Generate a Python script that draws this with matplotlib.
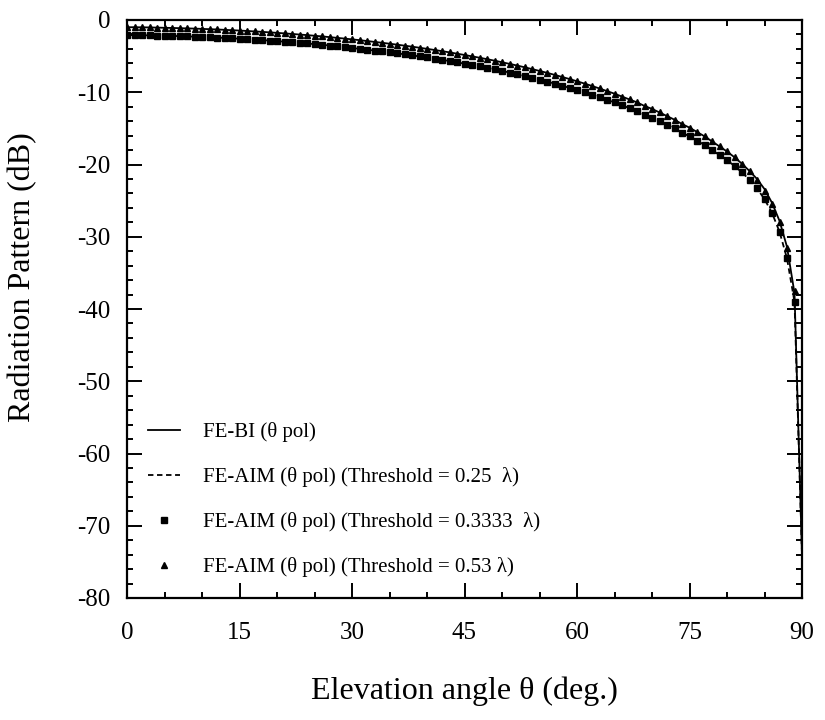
import matplotlib
matplotlib.use("Agg")
import matplotlib.pyplot as plt
import numpy as np

plt.rcParams['font.family'] = ['Liberation Serif', 'DejaVu Serif']

# Elevation angles (deg)
theta_markers = list(range(0, 90))          # 0..89
theta_lines = list(range(0, 91))            # 0..90

# FE-AIM threshold 0.53 lambda (triangles)
aim_053 = [-1.00, -1.00, -1.01, -1.03, -1.05, -1.08, -1.10, -1.13, -1.16, -1.19,
           -1.23, -1.27, -1.31, -1.36, -1.41, -1.46, -1.52, -1.58, -1.64, -1.71,
           -1.78, -1.85, -1.93, -2.01, -2.09, -2.18, -2.27, -2.37, -2.47, -2.57,
           -2.68, -2.79, -2.91, -3.03, -3.15, -3.28, -3.41, -3.55, -3.69, -3.84,
           -3.99, -4.15, -4.31, -4.48, -4.66, -4.84, -5.03, -5.22, -5.42, -5.63,
           -5.85, -6.07, -6.30, -6.54, -6.79, -7.05, -7.31, -7.59, -7.88, -8.17,
           -8.48, -8.80, -9.13, -9.48, -9.84, -10.2, -10.6, -11.0, -11.4, -11.9,
           -12.3, -12.8, -13.3, -13.8, -14.4, -14.9, -15.5, -16.1, -16.8, -17.5,
           -18.2, -19.0, -19.9, -20.9, -22.1, -23.6, -25.5, -28.0, -31.5, -37.5]

# FE-AIM threshold 0.3333 lambda (squares)
aim_03333 = [-2.10, -2.10, -2.11, -2.13, -2.15, -2.18, -2.20, -2.23, -2.27, -2.30,
             -2.34, -2.38, -2.43, -2.48, -2.53, -2.59, -2.65, -2.71, -2.78, -2.85,
             -2.92, -3.00, -3.08, -3.16, -3.25, -3.34, -3.43, -3.53, -3.63, -3.75,
             -3.88, -3.99, -4.11, -4.23, -4.35, -4.48, -4.61, -4.75, -4.89, -5.04,
             -5.19, -5.35, -5.51, -5.68, -5.86, -6.04, -6.23, -6.42, -6.62, -6.83,
             -7.05, -7.27, -7.50, -7.74, -7.99, -8.25, -8.52, -8.80, -9.09, -9.39,
             -9.70, -10.0, -10.35, -10.7, -11.05, -11.4, -11.8, -12.2, -12.6, -13.1,
             -13.5, -14.0, -14.5, -15.0, -15.6, -16.1, -16.7, -17.3, -18.0, -18.7,
             -19.4, -20.2, -21.1, -22.1, -23.3, -24.8, -26.7, -29.3, -33.0, -39.0]

# FE-BI (solid line)
fe_bi = [-1.00, -1.00, -1.01, -1.03, -1.05, -1.08, -1.10, -1.13, -1.16, -1.19,
         -1.23, -1.27, -1.31, -1.36, -1.41, -1.46, -1.52, -1.58, -1.64, -1.71,
         -1.78, -1.85, -1.93, -2.01, -2.09, -2.18, -2.27, -2.37, -2.47, -2.57,
         -2.68, -2.79, -2.91, -3.03, -3.15, -3.28, -3.41, -3.55, -3.69, -3.84,
         -3.99, -4.15, -4.31, -4.48, -4.66, -4.84, -5.03, -5.22, -5.42, -5.63,
         -5.85, -6.07, -6.30, -6.54, -6.79, -7.05, -7.31, -7.59, -7.88, -8.17,
         -8.48, -8.80, -9.13, -9.48, -9.84, -10.2, -10.6, -11.0, -11.4, -11.9,
         -12.3, -12.8, -13.3, -13.8, -14.4, -14.9, -15.5, -16.1, -16.8, -17.5,
         -18.2, -19.0, -19.9, -20.9, -22.0, -23.4, -25.3, -27.8, -31.4, -37.8, -74.0]

# FE-AIM threshold 0.25 lambda (dashed line)
aim_025 = [-2.10, -2.10, -2.11, -2.13, -2.15, -2.18, -2.20, -2.23, -2.27, -2.30,
           -2.34, -2.38, -2.43, -2.48, -2.53, -2.59, -2.65, -2.71, -2.78, -2.85,
           -2.92, -3.00, -3.08, -3.16, -3.25, -3.34, -3.43, -3.53, -3.63, -3.75,
           -3.88, -3.99, -4.11, -4.23, -4.35, -4.48, -4.61, -4.75, -4.89, -5.04,
           -5.19, -5.35, -5.51, -5.68, -5.86, -6.04, -6.23, -6.42, -6.62, -6.83,
           -7.05, -7.27, -7.50, -7.74, -7.99, -8.25, -8.52, -8.80, -9.09, -9.39,
           -9.70, -10.0, -10.35, -10.7, -11.05, -11.4, -11.8, -12.2, -12.6, -13.1,
           -13.5, -14.0, -14.5, -15.0, -15.6, -16.1, -16.7, -17.3, -18.0, -18.7,
           -19.4, -20.2, -21.1, -22.1, -23.3, -24.8, -26.7, -29.3, -33.0, -39.0, -74.0]

labels = ["FE-BI (\u03b8 pol)",
          "FE-AIM (\u03b8 pol) (Threshold = 0.25  \u03bb)",
          "FE-AIM (\u03b8 pol) (Threshold = 0.3333  \u03bb)",
          "FE-AIM (\u03b8 pol) (Threshold = 0.53 \u03bb)"]

xticks = [0, 15, 30, 45, 60, 75, 90]
yticks = [0, -10, -20, -30, -40, -50, -60, -70, -80]

fig = plt.figure(figsize=(8.25, 7.2), dpi=100)
ax = fig.add_axes([127/825, 1 - 598/720, (802-127)/825, (598-20)/720])

ax.plot(theta_lines, fe_bi, color='black', lw=1.3, label=labels[0])
ax.plot(theta_lines, aim_025, color='black', lw=1.3, ls=(0, (3, 2)), label=labels[1])
ax.plot(theta_markers, aim_03333, ls='none', marker='s', ms=4.8, color='black', label=labels[2])
ax.plot(theta_markers, aim_053, ls='none', marker='^', ms=4.5, color='black', label=labels[3])

ax.set_xlim(0, 90)
ax.set_ylim(-80, 0)
ax.set_xticks(xticks)
ax.set_xticklabels([str(t) for t in xticks])
ax.set_yticks(yticks)
ax.set_yticklabels([str(t) for t in yticks])
ax.set_xticks(np.arange(0, 91, 5), minor=True)
ax.set_yticks(np.arange(-80, 1, 2), minor=True)

ax.tick_params(which='both', direction='in', top=True, right=True, width=1.4, labelsize=18)
ax.tick_params(which='major', length=11)
ax.tick_params(which='minor', length=4)
ax.tick_params(axis='x', pad=17)
ax.tick_params(axis='y', pad=12)
for s in ax.spines.values():
    s.set_linewidth(1.6)

ax.set_xlabel("Elevation angle \u03b8 (deg.)", fontsize=23)
ax.xaxis.set_label_coords(0.5, -0.162)
ax.xaxis.label.set_va('center')
ax.set_ylabel("Radiation Pattern (dB)", fontsize=23)
ax.yaxis.set_label_coords(-0.155, 0.555)
ax.yaxis.label.set_va('center')

leg = ax.legend(loc='lower left', bbox_to_anchor=(0.0, 0.0), frameon=False,
                fontsize=15, handlelength=1.55, handletextpad=1.1,
                labelspacing=1.2, borderaxespad=0.6, markerscale=1.0)

fig.savefig("out.png", dpi=100)
